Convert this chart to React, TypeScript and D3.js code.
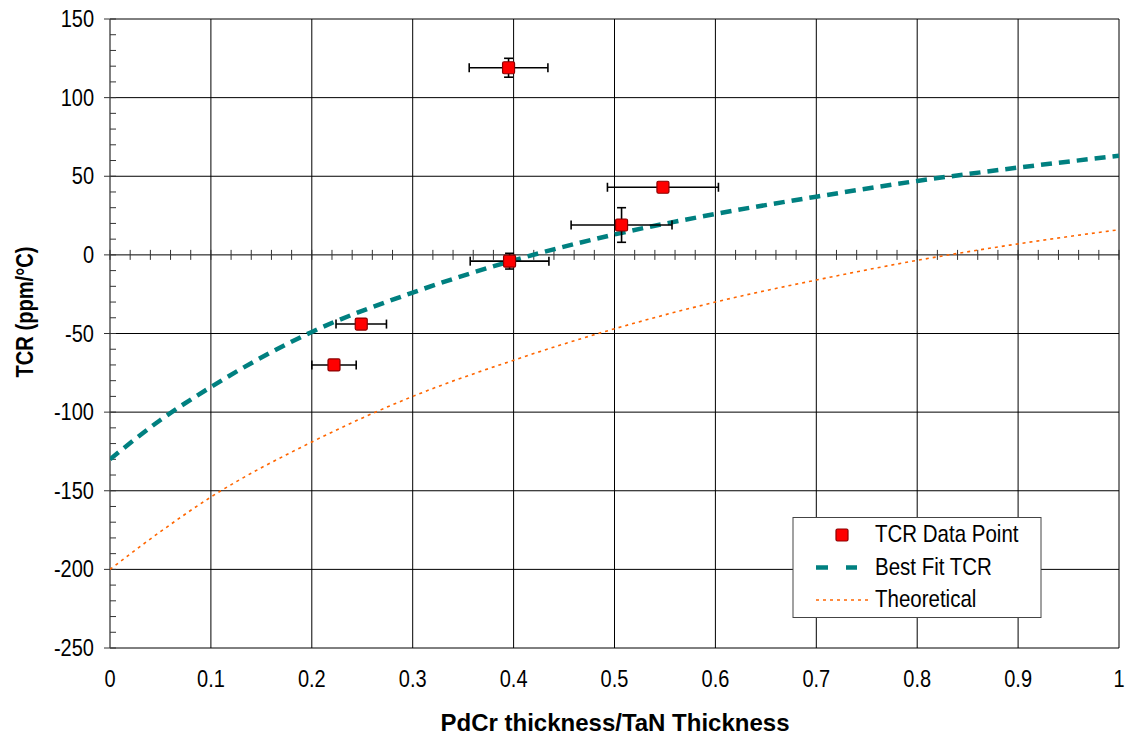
import { useEffect, useRef } from 'react';
import * as d3 from 'd3';

// measured points
const pointX = [0.395, 0.548, 0.507, 0.396, 0.249, 0.222];
const pointY = [119, 43, 19, -4, -44, -70];
const pointXErr = [0.039, 0.055, 0.05, 0.039, 0.025, 0.022];
const pointYErr = [6, 2, 11, 5, 2, 2];

// fitted and theoretical curves
const curveX = [0, 0.05, 0.1, 0.2, 0.3, 0.4, 0.5, 0.6, 0.7, 0.8, 0.9, 1.0];
const bestFitY = [-130, -105, -84, -49, -24, -3.5, 13, 26, 37, 47, 55.5, 63];
const theoreticalY = [-200, -176, -154, -119, -90, -67, -47, -30, -16, -3.5, 7, 16];

const xTicks = [0, 0.1, 0.2, 0.3, 0.4, 0.5, 0.6, 0.7, 0.8, 0.9, 1];
const yTicks = [150, 100, 50, 0, -50, -100, -150, -200, -250];

const legendLabels = ['TCR Data Point', 'Best Fit TCR', 'Theoretical'];

export default function App() {
    const svgRef = useRef<SVGSVGElement>(null);
    const width = 1129;
    const height = 738;
    const margin = { top: 19, right: 10, bottom: 90, left: 110 };

    useEffect(() => {
        if (!svgRef.current) return;
        const svg = d3.select(svgRef.current);
        svg.selectAll('*').remove();

        const x = d3.scaleLinear().domain([0, 1]).range([margin.left, width - margin.right]);
        const y = d3.scaleLinear().domain([-250, 150]).range([height - margin.bottom, margin.top]);
        const font = '"Liberation Sans", Arial, sans-serif';
        const stretch = 1.15; // the original glyphs are a bit taller than wide

        svg.append('defs').append('clipPath').attr('id', 'plot-clip')
            .append('rect')
            .attr('x', x(0)).attr('y', y(150))
            .attr('width', x(1) - x(0)).attr('height', y(-250) - y(150));

        const grid = svg.append('g');
        grid.selectAll('line.v')
            .data(xTicks.slice(1))
            .enter()
            .append('line')
            .attr('x1', d => x(d)).attr('x2', d => x(d))
            .attr('y1', y(150)).attr('y2', y(-250))
            .attr('stroke', '#000').attr('stroke-width', 1);
        grid.selectAll('line.h')
            .data(yTicks)
            .enter()
            .append('line')
            .attr('x1', x(0)).attr('x2', x(1))
            .attr('y1', d => y(d)).attr('y2', d => y(d))
            .attr('stroke', '#000').attr('stroke-width', 1);

        // y axis
        const yMinor = d3.range(-250, 151, 10).filter(v => v % 50 !== 0);
        svg.append('line')
            .attr('x1', x(0)).attr('x2', x(0))
            .attr('y1', y(150)).attr('y2', y(-250))
            .attr('stroke', '#555').attr('stroke-width', 1.5);
        svg.selectAll('line.ymin')
            .data(yMinor)
            .enter()
            .append('line')
            .attr('x1', x(0)).attr('x2', x(0) + 6)
            .attr('y1', d => y(d)).attr('y2', d => y(d))
            .attr('stroke', '#333').attr('stroke-width', 1);
        svg.selectAll('line.ymaj')
            .data(yTicks)
            .enter()
            .append('line')
            .attr('x1', x(0) - 6).attr('x2', x(0) + 6)
            .attr('y1', d => y(d)).attr('y2', d => y(d))
            .attr('stroke', '#333').attr('stroke-width', 1);
        svg.selectAll('text.ylab')
            .data(yTicks)
            .enter()
            .append('text')
            .attr('transform', d => `translate(${x(0) - 16},${y(d) + 8}) scale(1,${stretch})`)
            .attr('text-anchor', 'end')
            .attr('font-family', font)
            .attr('font-size', '20px')
            .text(d => d);

        // x axis at y = 0
        const xMinor = d3.range(0, 51).map(i => i / 50);
        svg.selectAll('line.xmin')
            .data(xMinor)
            .enter()
            .append('line')
            .attr('x1', d => x(d)).attr('x2', d => x(d))
            .attr('y1', y(0) - 5).attr('y2', y(0) + 5)
            .attr('stroke', '#333').attr('stroke-width', 1);
        svg.selectAll('text.xlab')
            .data(xTicks)
            .enter()
            .append('text')
            .attr('transform', d => `translate(${x(d)},${y(-250) + 39}) scale(1,${stretch})`)
            .attr('text-anchor', 'middle')
            .attr('font-family', font)
            .attr('font-size', '20px')
            .text(d => d);

        // axis titles
        svg.append('text')
            .attr('transform', 'translate(615,731)')
            .attr('text-anchor', 'middle')
            .attr('font-family', font).attr('font-weight', 'bold').attr('font-size', '24px')
            .text('PdCr thickness/TaN Thickness');
        svg.append('text')
            .attr('transform', 'translate(33,312) rotate(-90)')
            .attr('text-anchor', 'middle')
            .attr('font-family', font).attr('font-weight', 'bold').attr('font-size', '23px')
            .attr('textLength', 131)
            .attr('lengthAdjust', 'spacingAndGlyphs')
            .text('TCR (ppm/°C)');

        // curves
        const line = d3.line<number>()
            .x((_, i) => x(curveX[i]))
            .y(d => y(d))
            .curve(d3.curveMonotoneX);
        const plot = svg.append('g').attr('clip-path', 'url(#plot-clip)');
        plot.append('path')
            .attr('d', line(theoreticalY))
            .attr('fill', 'none')
            .attr('stroke', '#FF6600')
            .attr('stroke-width', 1.6)
            .attr('stroke-dasharray', '3,4');
        plot.append('path')
            .attr('d', line(bestFitY))
            .attr('fill', 'none')
            .attr('stroke', '#008080')
            .attr('stroke-width', 4.5)
            .attr('stroke-dasharray', '11,7');

        // error bars
        const bars = svg.append('g').attr('stroke', '#000').attr('stroke-width', 1.6);
        pointX.forEach((px, i) => {
            const cx = x(px);
            const cy = y(pointY[i]);
            const x0 = x(px - pointXErr[i]);
            const x1 = x(px + pointXErr[i]);
            const y0 = y(pointY[i] - pointYErr[i]);
            const y1 = y(pointY[i] + pointYErr[i]);
            bars.append('line').attr('x1', x0).attr('x2', x1).attr('y1', cy).attr('y2', cy);
            bars.append('line').attr('x1', x0).attr('x2', x0).attr('y1', cy - 4.5).attr('y2', cy + 4.5);
            bars.append('line').attr('x1', x1).attr('x2', x1).attr('y1', cy - 4.5).attr('y2', cy + 4.5);
            bars.append('line').attr('x1', cx).attr('x2', cx).attr('y1', y0).attr('y2', y1);
            bars.append('line').attr('x1', cx - 4.5).attr('x2', cx + 4.5).attr('y1', y0).attr('y2', y0);
            bars.append('line').attr('x1', cx - 4.5).attr('x2', cx + 4.5).attr('y1', y1).attr('y2', y1);
        });

        svg.selectAll('rect.pt')
            .data(pointX)
            .enter()
            .append('rect')
            .attr('x', (d) => x(d) - 6)
            .attr('y', (_, i) => y(pointY[i]) - 6)
            .attr('width', 12).attr('height', 12)
            .attr('rx', 1.5)
            .attr('fill', '#FF0000')
            .attr('stroke', '#8B0000')
            .attr('stroke-width', 1.2);

        // legend
        const lg = svg.append('g');
        lg.append('rect')
            .attr('x', 793).attr('y', 517.5)
            .attr('width', 248).attr('height', 100)
            .attr('fill', '#fff').attr('stroke', '#444').attr('stroke-width', 1);
        lg.append('rect')
            .attr('x', 836).attr('y', 529).attr('width', 12).attr('height', 12)
            .attr('rx', 1.5)
            .attr('fill', '#FF0000').attr('stroke', '#8B0000').attr('stroke-width', 1.2);
        lg.append('line')
            .attr('x1', 816).attr('x2', 857).attr('y1', 567.5).attr('y2', 567.5)
            .attr('stroke', '#008080').attr('stroke-width', 4.5).attr('stroke-dasharray', '12,18');
        lg.append('line')
            .attr('x1', 816).attr('x2', 870).attr('y1', 600).attr('y2', 600)
            .attr('stroke', '#FF6600').attr('stroke-width', 1.6).attr('stroke-dasharray', '3,4');
        lg.selectAll('text')
            .data(legendLabels)
            .enter()
            .append('text')
            .attr('transform', (_, i) => `translate(875,${542 + i * 32.5}) scale(1,${stretch})`)
            .attr('font-family', font)
            .attr('font-size', '20.5px')
            .text(d => d);
    }, []);

    return (
        <svg
            ref={svgRef}
            width={width}
            height={height}
            viewBox={`0 0 ${width} ${height}`}
            style={{ position: 'absolute', left: 0, top: 0, background: '#fff' }}
        />
    );
}
